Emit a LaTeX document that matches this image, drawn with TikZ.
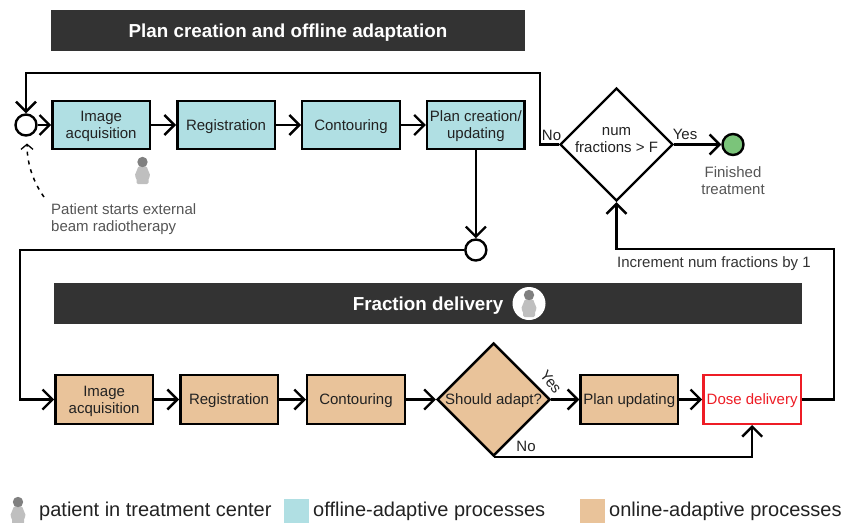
\documentclass[tikz,border=0pt]{standalone}
\usepackage{fontspec}
\setmainfont{Liberation Sans}
\usepackage{tikz}
\usetikzlibrary{matrix,arrows,shapes.geometric}
\usetikzlibrary{arrows.meta}

\definecolor{offlinecol}{HTML}{B0DFE3}
\definecolor{onlinecol}{HTML}{E9C39A}
\definecolor{barcol}{HTML}{333333}
\definecolor{donecol}{HTML}{7BC47A}
\definecolor{inkcol}{HTML}{222222}
\definecolor{notecol}{HTML}{555555}
\definecolor{dosecol}{HTML}{EE1C25}

\newcommand{\twolines}[2]{\begin{tabular}{@{}c@{}}#1\\#2\end{tabular}}

\tikzset{
	>={Straight Barb[length=10pt,width=20pt,line width=2.4pt]},
	flowline/.style={->,line width=2.4pt},
	procbox/.style={draw=black,line width=2.4pt,minimum width=97.5pt,minimum height=48.5pt,inner sep=0pt,text=inkcol,text height=10.5pt,text depth=0pt,font=\fontsize{15}{17}\selectfont},
	decidebox/.style={diamond,aspect=1,draw=black,line width=2.4pt,minimum width=113pt,minimum height=113pt,inner sep=0pt,text=inkcol,text height=10.5pt,text depth=0pt,font=\fontsize{15}{17}\selectfont},
	junction/.style={circle,draw=black,line width=2.4pt,fill=white,minimum size=21pt,inner sep=0pt},
	titlebar/.style={fill=barcol,text=white,minimum height=41pt,inner sep=0pt,text height=13pt,text depth=0pt,font=\fontsize{18.8}{22}\selectfont\bfseries},
	flowlabel/.style={text=inkcol,inner sep=0pt,font=\fontsize{15}{17}\selectfont},
	notelabel/.style={text=notecol,inner sep=0pt,align=left,font=\fontsize{15}{17.5}\selectfont},
	legendlabel/.style={text=inkcol,inner sep=0pt,anchor=west,font=\fontsize{20}{22}\selectfont},
	legendbox/.style={minimum width=25pt,minimum height=24pt,inner sep=0pt},
	patient/.pic={
		\fill[black!25,rounded corners=1.5pt] (-4,4) -- (4,4) -- (5.5,8) -- (8,14) -- (6,16) -- (6,22) -- (-6,22) -- (-6,16) -- (-8,14) -- (-5.5,8) -- cycle;
		\fill[black!50] (0,0) circle (5.2);
	},
}

\begin{document}
\begin{tikzpicture}[x=1pt,y=-1pt]
\useasboundingbox (0,0) rectangle (842,522);

% title bars
\node (plantitle) [titlebar,minimum width=474pt] at (288,30.5) {Plan creation and offline adaptation};
\node (fractitle) [titlebar,minimum width=748pt] at (428,303.5) {Fraction delivery};
\node (fracicon) [circle,fill=white,minimum size=33pt,inner sep=0pt] at (529,303.5) {};
\pic at (529,295) {patient};

% offline row
\matrix (off) [matrix of nodes, column sep=25pt, inner sep=0pt, anchor=west, nodes={procbox,fill=offlinecol}] at (51,125)
{
	\twolines{Image}{acquisition} & Registration & Contouring & \twolines{Plan creation/}{updating} \\
};

% online row
\matrix (on) [matrix of nodes, column sep=25pt, inner sep=0pt, anchor=west, nodes={procbox,fill=onlinecol}] at (54,399.5)
{
	\twolines{Image}{acquisition} &[0pt] Registration &[2pt] Contouring &[5.5pt] |[decidebox,fill=onlinecol]| Should adapt? &[3.5pt] Plan updating &[-2pt] |[draw=dosecol,fill=white,text=dosecol]| Dose delivery \\
};

\node (decide) [decidebox,text height=0pt] at (616.5,144.5) {\twolines{num}{fractions > F}};
\node (enter) [junction] at (26,125) {};
\node (handover) [junction] at (off-1-4 |- 0,250) {};
\node (done) [junction,fill=donecol] at (733,144.5) {};

\coordinate (loopa) at (540,73);
\coordinate (loopb) at (26,73);
\coordinate (lefta) at (20,250);
\coordinate (leftb) at (20,399.5);
\coordinate (backa) at (834,399.5);
\coordinate (backb) at (834,249);
\coordinate (backc) at (616.5,249);
\coordinate (startnote) at (44,197);
\coordinate (startend) at (27,143.5);

\path[flowline]
(enter) edge (off-1-1)
(off-1-1) edge (off-1-2)
(off-1-2) edge (off-1-3)
(off-1-3) edge (off-1-4)
(off-1-4) edge (handover)
(decide) edge (done)
(on-1-1) edge (on-1-2)
(on-1-2) edge (on-1-3)
(on-1-3) edge (on-1-4)
(on-1-4) edge (on-1-5)
(on-1-5) edge (on-1-6)
;
\draw[flowline] (decide.west) -| (loopa) -- (loopb) -- (enter);
\draw[flowline] (handover) -- (lefta) -- (leftb) -- (on-1-1);
\draw[flowline] (on-1-6.east) -- (backa) -- (backb) -- (backc) -- (decide.south);
\draw[flowline] (on-1-4.south) -| (on-1-6.south);
\draw[->,line width=1.5pt,dash pattern=on 4pt off 5pt,>={Straight Barb[length=5pt,width=12pt,line width=1.3pt]}] (startnote) .. controls (34,183) and (27,165) .. (startend);

% labels
\node (nolabel) [flowlabel] at (551.5,135) {No};
\node (yeslabel) [flowlabel] at (685,134) {Yes};
\node (adaptyes) [flowlabel,rotate=-52] at (551,382) {Yes};
\node (adaptno) [flowlabel] at (526,446.5) {No};
\node (inclabel) [flowlabel,text=black!80,anchor=west] at (617,263.5) {Increment num fractions by 1};
\node (startlabel) [notelabel,anchor=north west] at (51,203) {Patient starts external\\beam radiotherapy};
\node (donelabel) [notelabel,align=center,anchor=north] at (733,166) {Finished\\treatment};

\pic at (142.5,162) {patient};

% legend
\pic at (18,502) {patient};
\node (patlabel) [legendlabel] at (39,511.5) {patient in treatment center};
\node (offkey) [legendbox,fill=offlinecol] at (296.5,511) {};
\node (offlabel) [legendlabel] at (313,511.5) {offline-adaptive processes};
\node (onkey) [legendbox,fill=onlinecol] at (592.5,510.5) {};
\node (onlabel) [legendlabel] at (609,511.5) {online-adaptive processes};
\end{tikzpicture}
\end{document}
